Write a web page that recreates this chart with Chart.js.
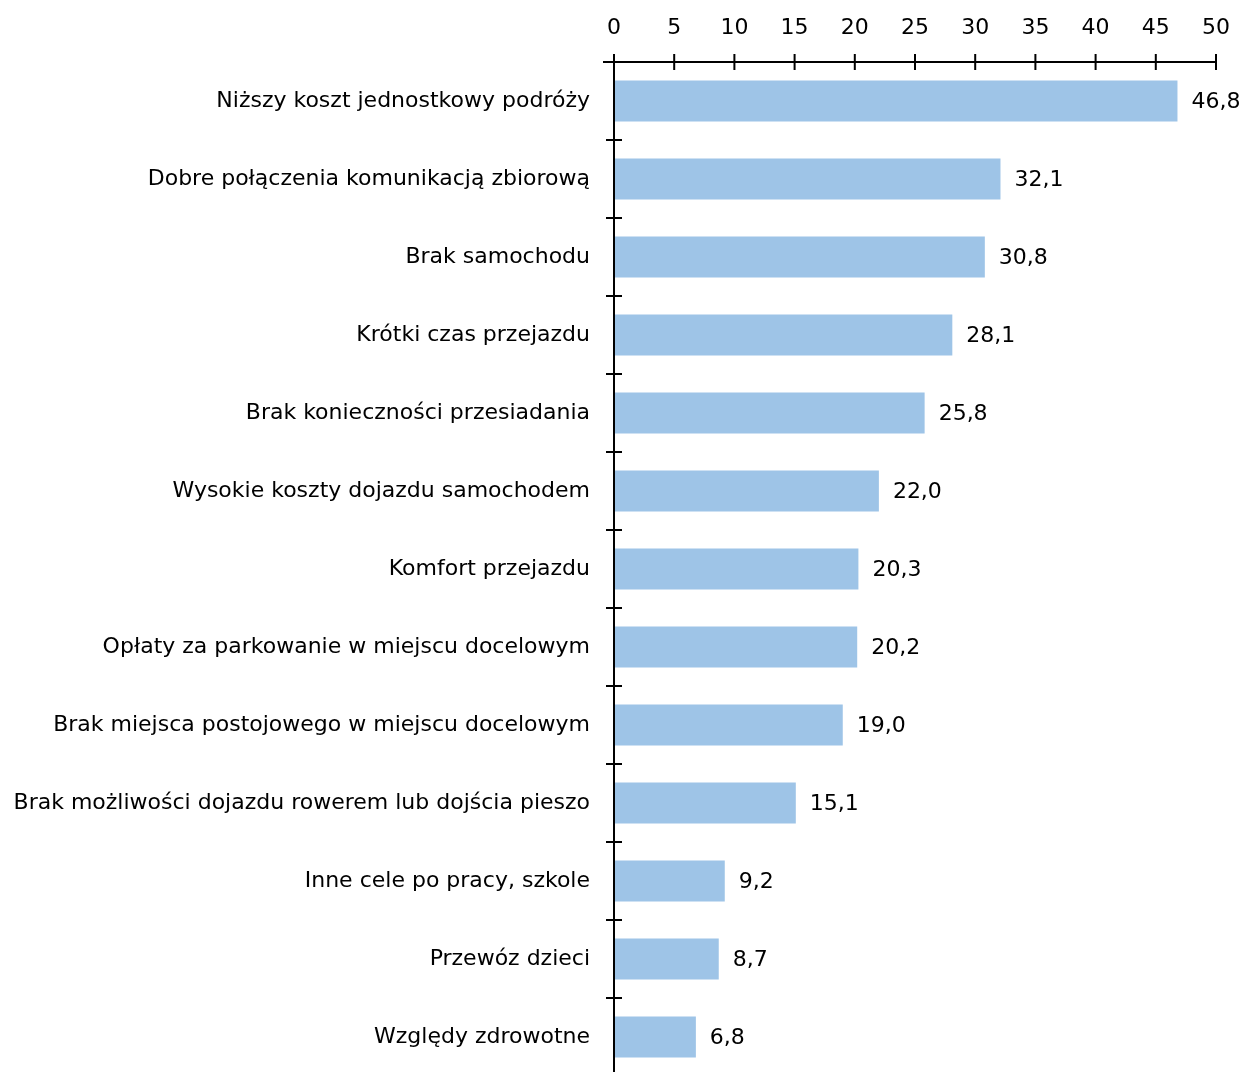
<!DOCTYPE html>
<html lang="pl">
<head>
<meta charset="utf-8">
<script src="https://cdn.jsdelivr.net/npm/chart.js@4.4.1/dist/chart.umd.min.js"></script>
<style>
  html, body { margin: 0; padding: 0; background: #fff; overflow: hidden; }
  #wrap { position: relative; width: 1245px; height: 1076px; }
</style>
</head>
<body>
<div id="wrap"><canvas id="c"></canvas></div>
<script>
// Powody wyboru komunikacji zbiorowej (%)
const categories = [
  'Niższy koszt jednostkowy podróży',
  'Dobre połączenia komunikacją zbiorową',
  'Brak samochodu',
  'Krótki czas przejazdu',
  'Brak konieczności przesiadania',
  'Wysokie koszty dojazdu samochodem',
  'Komfort przejazdu',
  'Opłaty za parkowanie w miejscu docelowym',
  'Brak miejsca postojowego w miejscu docelowym',
  'Brak możliwości dojazdu rowerem lub dojścia pieszo',
  'Inne cele po pracy, szkole',
  'Przewóz dzieci',
  'Względy zdrowotne'
];
const values = [46.8, 32.1, 30.8, 28.1, 25.8, 22.0, 20.3, 20.2, 19.0, 15.1, 9.2, 8.7, 6.8];
const xTicks = [0, 5, 10, 15, 20, 25, 30, 35, 40, 45, 50];

const FONT = "'DejaVu Sans', sans-serif";
const SIZE = 22;
const TEXT = '#000';
const fmt = v => v.toFixed(1).replace('.', ',');

// Axis lines with tick marks crossing both sides of the line
const crossAxes = {
  id: 'crossAxes',
  afterDraw(chart) {
    const { ctx, chartArea, scales } = chart;
    const x = scales.x, y = scales.y;
    const half = 8;
    ctx.save();
    ctx.strokeStyle = '#000';
    ctx.lineWidth = 2;
    ctx.lineCap = 'butt';
    // horizontal value axis (top)
    ctx.beginPath();
    ctx.moveTo(chartArea.left - 11, chartArea.top);
    ctx.lineTo(x.getPixelForValue(xTicks[xTicks.length - 1]), chartArea.top);
    xTicks.forEach(v => {
      const px = x.getPixelForValue(v);
      ctx.moveTo(px, chartArea.top - half);
      ctx.lineTo(px, chartArea.top + half);
    });
    // vertical category axis
    ctx.moveTo(chartArea.left, chartArea.top);
    ctx.lineTo(chartArea.left, chartArea.bottom);
    for (let i = 0; i < categories.length - 1; i++) {
      const py = (y.getPixelForValue(i) + y.getPixelForValue(i + 1)) / 2;
      ctx.moveTo(chartArea.left - half, py);
      ctx.lineTo(chartArea.left + half, py);
    }
    ctx.stroke();
    ctx.restore();
  }
};

// Value labels to the right of each bar
const valueLabels = {
  id: 'valueLabels',
  afterDatasetsDraw(chart) {
    const { ctx } = chart;
    const meta = chart.getDatasetMeta(0);
    ctx.save();
    ctx.font = SIZE + 'px ' + FONT;
    ctx.fillStyle = TEXT;
    ctx.textAlign = 'left';
    ctx.textBaseline = 'middle';
    meta.data.forEach((bar, i) => {
      ctx.fillText(fmt(values[i]), bar.x + 14, bar.y + 1);
    });
    ctx.restore();
  }
};

new Chart(document.getElementById('c'), {
  type: 'bar',
  data: {
    labels: categories,
    datasets: [{
      data: values,
      backgroundColor: 'rgb(158,196,231)',
      borderWidth: 0,
      barPercentage: 0.525,
      categoryPercentage: 1.0
    }]
  },
  options: {
    indexAxis: 'y',
    responsive: true,
    maintainAspectRatio: false,
    animation: false,
    layout: { padding: { left: 0, right: 29, top: 0, bottom: 0 } },
    plugins: { legend: { display: false }, tooltip: { enabled: false }, title: { display: false } },
    scales: {
      x: {
        position: 'top',
        min: 0,
        max: 50,
        afterBuildTicks: s => { s.ticks = xTicks.map(v => ({ value: v })); },
        afterFit: s => { s.height = 62; s.paddingLeft = 0; s.paddingRight = 0; },
        grid: { display: false, drawTicks: false },
        border: { display: false },
        ticks: {
          padding: 21,
          color: TEXT,
          font: { family: FONT, size: SIZE },
          callback: v => String(v)
        }
      },
      y: {
        afterFit: s => { s.width = 614; s.paddingTop = 0; s.paddingBottom = 0; },
        grid: { display: false, drawTicks: false },
        border: { display: false },
        ticks: {
          padding: 24,
          color: TEXT,
          font: { family: FONT, size: SIZE },
          autoSkip: false
        }
      }
    }
  },
  plugins: [crossAxes, valueLabels]
});
</script>
</body>
</html>
